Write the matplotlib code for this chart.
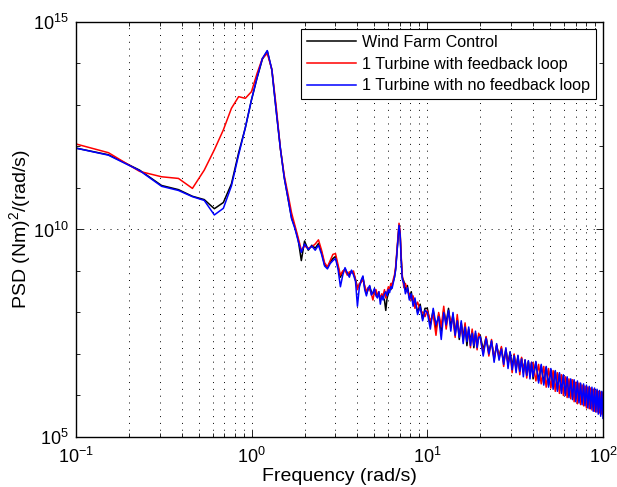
import numpy as np
import matplotlib

matplotlib.use("Agg")
import matplotlib.pyplot as plt
from matplotlib.ticker import FixedLocator, LogFormatterSciNotation, NullFormatter

plt.rcParams["font.family"] = ["Liberation Sans", "DejaVu Sans"]
plt.rcParams["mathtext.default"] = "regular"

# ---------------------------------------------------------------- data
# frequency bins (rad/s), low / mid / high bands
FREQ_LO = [0.10, 0.153, 0.23, 0.307, 0.383, 0.46, 0.537, 0.613, 0.69, 0.767,
           0.843, 0.92, 0.997, 1.073, 1.15, 1.227, 1.303, 1.38, 1.457, 1.533,
           1.61, 1.687, 1.763, 1.84, 1.917]
FREQ_MID = [2.0, 2.1, 2.2, 2.3, 2.4, 2.5, 2.6, 2.7, 2.8, 2.9,
            3.0, 3.1, 3.2, 3.3, 3.4, 3.5, 3.6, 3.7, 3.8, 3.9,
            4.0, 4.1, 4.2, 4.3, 4.4, 4.5, 4.6, 4.7, 4.8, 4.9,
            5.0, 5.1, 5.2, 5.3, 5.4, 5.5, 5.6, 5.7, 5.8, 5.9,
            6.0, 6.1, 6.2, 6.3, 6.4, 6.5, 6.6,
            6.7, 6.8, 6.9, 7.0, 7.1, 7.2, 7.35, 7.5, 7.7, 7.9,
            8.1, 8.3, 8.5, 8.8, 9.1, 9.4, 9.7]
FREQ_HI = [10.0, 10.4, 10.8, 11.2, 11.6, 12.0, 12.4, 12.8, 13.2, 13.6,
           14.0, 14.4, 14.8, 15.2, 15.6, 16.0, 16.4, 16.8, 17.2, 17.6,
           18.0, 18.4, 18.8, 19.2, 19.6,
           20.0, 20.8, 21.6, 22.4, 23.2, 24.0, 24.8, 25.6, 26.4, 27.2,
           28.0, 28.8, 29.6, 30.4, 31.2, 32.0, 32.8, 33.6, 34.4, 35.2,
           36.0, 36.8, 37.6, 38.4, 39.2,
           40.0, 41.5, 43.0, 44.5, 46.0, 47.5, 49.0, 50.5, 52.0, 53.5,
           55.0, 56.5, 58.0, 59.5, 61.0, 62.5, 64.0, 65.5, 67.0, 68.5,
           70.0, 71.5, 73.0, 74.5, 76.0, 77.5, 79.0, 80.5, 82.0, 83.5,
           85.0, 86.5, 88.0, 89.5, 91.0, 92.5, 94.0, 95.5, 97.0, 98.5, 100.0]

# log10 PSD, Wind Farm Control
WFC_LO = [11.96, 11.80, 11.43, 11.06, 10.96, 10.80, 10.72, 10.50, 10.65, 11.10,
          11.85, 12.45, 13.12, 13.65, 14.10, 14.30, 13.84, 12.85, 11.95, 11.25,
          10.75, 10.28, 10.05, 9.75, 9.25]
WFC_MID = [9.72, 9.50, 9.62, 9.55, 9.66, 9.45, 9.15, 9.08, 9.22, 9.30,
           9.35, 9.10, 8.85, 8.98, 9.05, 8.95, 8.92, 9.00, 8.95, 8.80,
           8.60, 8.65, 8.75, 8.85, 8.60, 8.45, 8.55, 8.62, 8.50, 8.45,
           8.55, 8.50, 8.38, 8.45, 8.35, 8.42, 8.36, 8.30, 8.05, 8.35,
           8.45, 8.60, 8.55, 8.70, 8.75, 8.85, 9.05,
           9.40, 9.75, 10.08, 9.90, 9.30, 8.85, 8.75, 8.55, 8.65, 8.35,
           8.50, 8.20, 8.30, 8.00, 8.20, 7.85, 8.10]
WFC_HI = [8.10, 7.70, 8.05, 7.60, 7.95, 7.55, 8.05, 7.75, 8.10, 7.65,
          7.95, 7.50, 7.85, 7.35, 7.75, 7.40, 7.70, 7.20, 7.60, 7.30,
          7.55, 7.15, 7.50, 7.22, 7.45,
          7.45, 7.10, 7.40, 7.05, 7.30, 6.90, 7.20, 6.95, 7.15, 6.80,
          7.10, 6.78, 7.05, 6.70, 6.98, 6.65, 6.95, 6.60, 6.90, 6.58,
          6.85, 6.50, 6.82, 6.52, 6.78,
          6.40, 6.80, 6.35, 6.72, 6.30, 6.68, 6.25, 6.62, 6.22, 6.58,
          6.15, 6.52, 6.12, 6.48, 6.05, 6.42, 6.00, 6.38, 5.98, 6.35,
          5.92, 6.30, 5.88, 6.28, 5.85, 6.25, 5.80, 6.22, 5.78, 6.18,
          5.75, 6.15, 5.72, 6.14, 5.70, 6.12, 5.68, 6.10, 5.65, 6.08, 5.70]

# log10 PSD, 1 turbine with feedback loop
FB_LO = [12.06, 11.85, 11.40, 11.27, 11.23, 10.99, 11.43, 11.92, 12.40, 12.92,
         13.20, 13.16, 13.32, 13.76, 14.12, 14.24, 13.86, 12.95, 11.95, 11.30,
         10.85, 10.40, 10.10, 9.80, 9.50]
FB_MID = [9.60, 9.55, 9.58, 9.65, 9.75, 9.50, 9.20, 9.10, 9.25, 9.40,
          9.42, 9.15, 8.90, 9.00, 9.02, 8.90, 8.98, 8.95, 9.00, 8.78,
          8.55, 8.70, 8.72, 8.80, 8.65, 8.50, 8.60, 8.55, 8.45, 8.30,
          8.50, 8.55, 8.40, 8.50, 8.30, 8.45, 8.40, 8.55, 8.35, 8.50,
          8.62, 8.55, 8.70, 8.62, 8.80, 8.90, 9.10,
          9.45, 9.80, 10.15, 9.95, 9.35, 8.90, 8.60, 8.70, 8.50, 8.45,
          8.30, 8.40, 8.10, 8.25, 8.05, 8.00, 7.90]
FB_HI = [8.05, 7.80, 7.95, 7.45, 8.00, 7.65, 8.15, 7.60, 8.00, 7.80,
         7.85, 7.40, 7.95, 7.45, 7.70, 7.30, 7.75, 7.35, 7.55, 7.15,
         7.60, 7.25, 7.45, 7.10, 7.50,
         7.40, 7.00, 7.42, 6.95, 7.35, 6.85, 7.22, 6.90, 7.18, 6.70,
         7.12, 6.75, 7.00, 6.55, 7.00, 6.62, 6.92, 6.50, 6.92, 6.55,
         6.85, 6.42, 6.80, 6.48, 6.80,
         6.78, 6.35, 6.75, 6.28, 6.70, 6.20, 6.65, 6.18, 6.60, 6.10,
         6.55, 6.05, 6.50, 6.00, 6.45, 5.95, 6.40, 5.92, 6.38, 5.85,
         6.32, 5.80, 6.30, 5.78, 6.25, 5.75, 6.22, 5.70, 6.20, 5.68,
         6.18, 5.65, 6.15, 5.62, 6.12, 5.60, 6.10, 5.58, 6.08, 5.55, 6.05]

# log10 PSD, 1 turbine without feedback loop
NOFB_LO = [11.96, 11.79, 11.42, 11.04, 10.94, 10.79, 10.70, 10.35, 10.51, 11.05,
           11.80, 12.45, 13.12, 13.66, 14.12, 14.31, 13.85, 12.85, 11.95, 11.24,
           10.75, 10.26, 10.02, 9.72, 9.45]
NOFB_MID = [9.65, 9.52, 9.60, 9.50, 9.62, 9.40, 9.12, 9.05, 9.18, 9.25,
            9.30, 9.05, 8.62, 8.90, 9.08, 8.95, 8.85, 9.02, 8.90, 8.75,
            8.15, 8.60, 8.78, 8.88, 8.55, 8.40, 8.58, 8.65, 8.42, 8.48,
            8.58, 8.40, 8.35, 8.50, 8.20, 8.40, 8.30, 8.45, 8.50, 8.40,
            8.55, 8.48, 8.62, 8.58, 8.72, 8.85, 9.02,
            9.38, 9.72, 10.10, 9.88, 9.25, 8.80, 8.70, 8.45, 8.60, 8.30,
            8.45, 8.15, 8.35, 7.95, 8.15, 7.80, 8.05]
NOFB_HI = [8.00, 7.60, 8.10, 7.70, 7.90, 7.35, 8.00, 7.70, 8.05, 7.55,
           8.00, 7.45, 7.80, 7.40, 7.80, 7.25, 7.65, 7.30, 7.65, 7.20,
           7.50, 7.20, 7.55, 7.15, 7.40,
           7.42, 6.95, 7.38, 7.00, 7.32, 6.80, 7.25, 6.85, 7.12, 6.75,
           7.15, 6.65, 7.05, 6.62, 6.96, 6.55, 6.97, 6.58, 6.88, 6.45,
           6.86, 6.48, 6.84, 6.40, 6.80,
           6.45, 6.82, 6.30, 6.75, 6.25, 6.70, 6.20, 6.65, 6.15, 6.60,
           6.10, 6.55, 6.05, 6.50, 6.00, 6.45, 5.95, 6.40, 5.90, 6.38,
           5.85, 6.35, 5.82, 6.30, 5.78, 6.28, 5.75, 6.25, 5.70, 6.22,
           5.68, 6.20, 5.62, 6.18, 5.60, 6.15, 5.55, 6.12, 5.50, 6.10, 5.45]

LABELS = ["Wind Farm Control", "1 Turbine with feedback loop",
          "1 Turbine with no feedback loop"]
COLORS = ["black", "red", "blue"]

freq = np.array(FREQ_LO + FREQ_MID + FREQ_HI)
series = [WFC_LO + WFC_MID + WFC_HI,
          FB_LO + FB_MID + FB_HI,
          NOFB_LO + NOFB_MID + NOFB_HI]

# ---------------------------------------------------------------- plot
fig = plt.figure(figsize=(6.17, 4.87), dpi=100)
ax = fig.add_axes([0.1232, 0.1027, 0.8541, 0.8522])

for vals, col, lab in zip(series, COLORS, LABELS):
    ax.loglog(freq, 10.0 ** np.array(vals), color=col, lw=1.1, label=lab)

ax.set_xlim(0.1, 100)
ax.set_ylim(1e5, 1e15)

ax.xaxis.set_major_locator(FixedLocator([0.1, 1, 10, 100]))
ax.xaxis.set_minor_locator(FixedLocator([m * 10.0 ** e for e in (-1, 0, 1) for m in range(2, 10)]))
ax.yaxis.set_major_locator(FixedLocator([1e5, 1e10, 1e15]))
ax.yaxis.set_minor_locator(FixedLocator([10.0 ** e for e in range(6, 15) if e != 10]))
ax.xaxis.set_major_formatter(LogFormatterSciNotation())
ax.yaxis.set_major_formatter(LogFormatterSciNotation())
ax.xaxis.set_minor_formatter(NullFormatter())
ax.yaxis.set_minor_formatter(NullFormatter())

ax.tick_params(which="both", direction="in", top=True, right=True, labelsize=13, width=0.6)
ax.tick_params(which="major", length=5)
ax.tick_params(which="minor", length=3)
ax.tick_params(axis="x", which="major", pad=7)
ax.tick_params(axis="y", which="major", pad=5)

dots = (0, (1, 6))
ax.grid(True, which="major", axis="both", color="black", lw=0.7, linestyle=dots)
ax.grid(True, which="minor", axis="x", color="black", lw=0.7, linestyle=dots)

for s in ax.spines.values():
    s.set_linewidth(1.0)

ax.set_xlabel("Frequency (rad/s)", fontsize=14, labelpad=1)
ax.set_ylabel("PSD (Nm)$^2$/(rad/s)", fontsize=14, labelpad=0)

leg = ax.legend(loc="upper right", fontsize=11.6, fancybox=False, framealpha=1,
                edgecolor="black", handlelength=3.1, handletextpad=0.35,
                borderaxespad=0.45, borderpad=0.35, labelspacing=0.42)
leg.get_frame().set_linewidth(0.8)

fig.savefig("out.png", dpi=100)
